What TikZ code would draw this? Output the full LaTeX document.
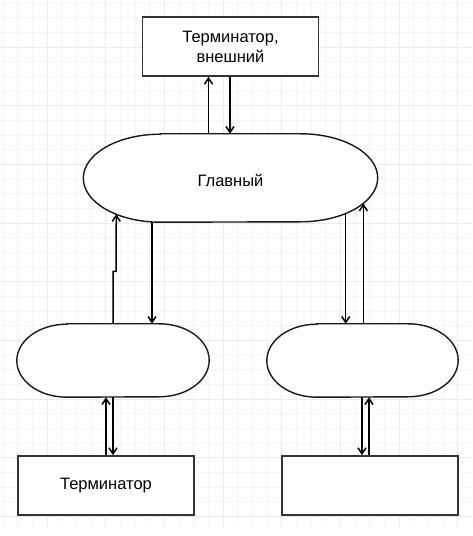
\documentclass[tikz,border=0pt]{standalone}
\usepackage{fontspec}
\setmainfont{Liberation Sans}
\usetikzlibrary{arrows.meta,calc}
\newcommand\mystad[3]{%
  \draw[stadline] ([xshift=#2pt]#1.north west) -- ([xshift=-#2pt]#1.north east)
    arc[start angle=90,end angle=-90,x radius=#2pt,y radius=#3pt]
    -- ([xshift=#2pt]#1.south west)
    arc[start angle=270,end angle=90,x radius=#2pt,y radius=#3pt] -- cycle;}
\begin{document}
\begin{tikzpicture}[x=1pt,y=1pt,
  minorgrid/.style={draw=black!4,line width=0.8pt},
  majorgrid/.style={draw=black!8,line width=0.9pt},
  box/.style={draw=black!80,line width=1.7pt,fill=white,minimum width=176pt,minimum height=59pt,inner sep=0pt,align=center,font=\fontsize{16.5}{20}\selectfont},
  shapeanchor/.style={draw=none,inner sep=0pt},
  stadline/.style={draw=black!90,line width=1.4pt,fill=white},
  label/.style={inner sep=0pt,font=\fontsize{16.5}{20}\selectfont},
  arr/.style={draw=black,line width=1.5pt,-{Straight Barb[length=6pt,width=8pt]}}]
\useasboundingbox (0,0) rectangle (472,536);
\fill[white] (0,0) rectangle (472,536);
% grid
\begin{scope}
\clip (0,10) rectangle (472,536);
\foreach \k [evaluate=\k as \p using 3+14.667*\k] in {0,...,32}
  \draw[minorgrid] (\p,0) -- (\p,536);
\foreach \k [evaluate=\k as \p using 533-14.667*\k] in {0,...,36}
  \draw[minorgrid] (0,\p) -- (472,\p);
\foreach \k [evaluate=\k as \p using 47+58.667*\k] in {0,...,7}
  \draw[majorgrid] (\p,0) -- (\p,536);
\foreach \k [evaluate=\k as \p using 489-58.667*\k] in {0,...,8}
  \draw[majorgrid] (0,\p) -- (472,\p);
\end{scope}
% boxes
\node[box] (top) at (230.5,489.5) {Терминатор,\\внешний};
\node[box] (bl) at (106,50.5) {Терминатор};
\node[box] (br) at (370,50.5) {};
% stadium shapes
\node[shapeanchor,minimum width=294pt,minimum height=88pt] (main) at (230.5,358) {};
\node[shapeanchor,minimum width=192pt,minimum height=73pt] (ll) at (113,175.5) {};
\node[shapeanchor,minimum width=191pt,minimum height=73pt] (lr) at (362.5,175.5) {};
\mystad{main}{77}{44}
\mystad{ll}{50}{36.5}
\mystad{lr}{50}{36.5}
\node[label] (maintext) at ([yshift=-2pt]main.center) {Главный};
% boundary points on curved ends of the main shape
\coordinate (mLc) at ([xshift=77pt]main.west);
\coordinate (mRc) at ([xshift=-77pt]main.east);
\coordinate (mA) at ($(mLc)+(235.15:77pt and 44pt)$);
\coordinate (mB) at ($(mRc)+(-54.2:77pt and 44pt)$);
\coordinate (mC) at ($(mRc)+(-35.5:77pt and 44pt)$);
% connectors
\draw[arr] ([xshift=-22pt]main.north) -- ([xshift=-22pt]top.south);
\draw[arr] ([xshift=-0.5pt]top.south) -- ([xshift=-0.5pt]main.north);
\draw[arr] (ll.north) -- ++(0,52.5) -- ++(3,0) -- (mA);
\draw[arr] ([xshift=-78.5pt]main.south) -- ([xshift=39pt]ll.north);
\draw[arr] (mB) -- (mB |- lr.north);
\draw[arr] (mC |- lr.north) -- (mC);
\draw[arr] (bl.north) -- (bl.north |- ll.south);
\draw[arr] (ll.south) -- (ll.south |- bl.north);
\draw[arr] ([xshift=-0.5pt]lr.south) -- ([xshift=-0.5pt]lr.south |- br.north);
\draw[arr] ([xshift=-1pt]br.north) -- ([xshift=-1pt]br.north |- lr.south);
\end{tikzpicture}
\end{document}
